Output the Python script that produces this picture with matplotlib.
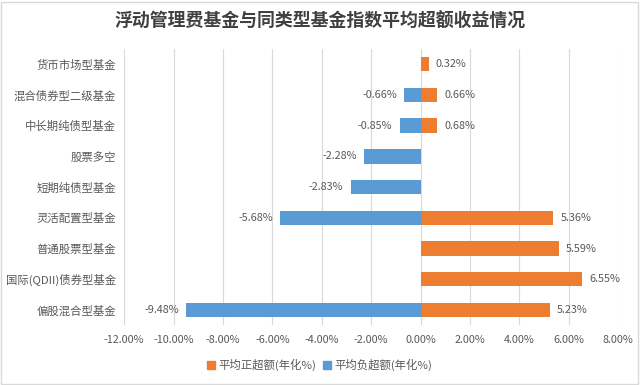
import matplotlib
matplotlib.use("Agg")
import matplotlib.pyplot as plt
import numpy as np
from matplotlib.patches import Rectangle, Patch

plt.rcParams['font.family'] = ['Noto Sans CJK SC', 'DejaVu Sans']

categories = ["货币市场型基金", "混合债券型二级基金", "中长期纯债型基金", "股票多空",
              "短期纯债型基金", "灵活配置型基金", "普通股票型基金", "国际(QDII)债券型基金",
              "偏股混合型基金"]
positive = [0.32, 0.66, 0.68, None, None, 5.36, 5.59, 6.55, 5.23]
negative = [None, -0.66, -0.85, -2.28, -2.83, -5.68, None, None, -9.48]
xticks = [-12, -10, -8, -6, -4, -2, 0, 2, 4, 6, 8]
pos_name = "平均正超额(年化%)"
neg_name = "平均负超额(年化%)"
title = "浮动管理费基金与同类型基金指数平均超额收益情况"

ORANGE = "#ED7D31"
BLUE = "#5B9BD5"
TXT = "#595959"

fig = plt.figure(figsize=(6.4, 3.85), dpi=100)
ax = fig.add_axes([0.194, 0.155, 0.772, 0.718])

y = np.arange(len(categories))
pv = [v if v is not None else 0 for v in positive]
nv = [v if v is not None else 0 for v in negative]
h = 0.47
ax.barh(y, pv, height=h, color=ORANGE, zorder=3)
ax.barh(y, nv, height=h, color=BLUE, zorder=3)

for i, v in enumerate(positive):
    if v is not None:
        ax.text(v + 0.3, i, f"{v:.2f}%", va='center', ha='left', fontsize=7.8, color=TXT)
for i, v in enumerate(negative):
    if v is not None:
        ax.text(v - 0.3, i, f"{v:.2f}%", va='center', ha='right', fontsize=7.8, color=TXT)

ax.set_xlim(-12, 8)
ax.set_ylim(len(categories) - 0.5, -0.5)
ax.set_yticks(y)
ax.set_yticklabels(categories, fontsize=8.2, color=TXT)
ax.set_xticks(xticks)
ax.set_xticklabels([f"{t:.2f}%" for t in xticks], fontsize=7.8, color=TXT)
ax.tick_params(axis='both', length=0)
ax.tick_params(axis='y', pad=6)
ax.tick_params(axis='x', pad=7)
for s in ax.spines.values():
    s.set_visible(False)
ax.grid(axis='x', color='#D9D9D9', linewidth=0.8, zorder=0)
ax.set_axisbelow(True)

fig.text(0.5, 0.943, title, ha='center', va='center', fontsize=12.9, fontweight='bold', color='#404040')

handles = [Patch(color=ORANGE, label=pos_name), Patch(color=BLUE, label=neg_name)]
fig.legend(handles=handles, loc='center', bbox_to_anchor=(0.5, 0.052), ncol=2, frameon=False,
           fontsize=8.2, handlelength=0.7, handleheight=0.7, handletextpad=0.3, columnspacing=0.6,
           labelcolor=TXT)

fig.patches.append(Rectangle((0.002, 0.003), 0.995, 0.993, transform=fig.transFigure,
                             fill=False, edgecolor='#D9D9D9', linewidth=1))

fig.savefig("out.png", dpi=100, facecolor='white')
